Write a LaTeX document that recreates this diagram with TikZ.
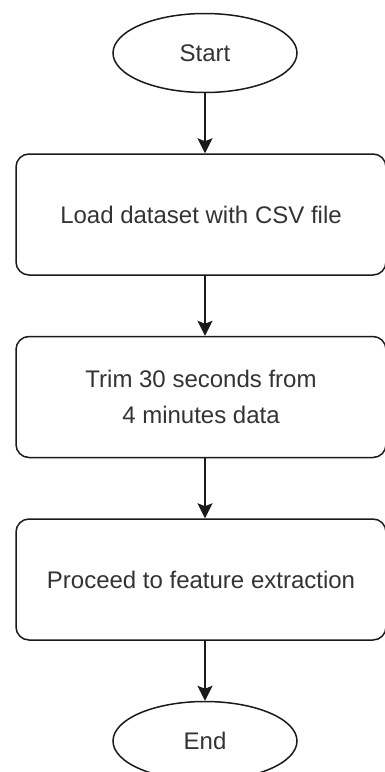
\documentclass[tikz,border=0pt]{standalone}
\usepackage{fontspec}
\setmainfont{Liberation Sans}
\usetikzlibrary{positioning, arrows.meta, shapes.geometric}
\definecolor{StrokeGray}{HTML}{1A1A1A}
\definecolor{TextGray}{HTML}{333333}

\begin{document}
\begin{tikzpicture}[
        x=1pt, y=-1pt,
        node distance=60pt,
        terminal/.style={
            ellipse, draw=StrokeGray, line width=1.5pt, minimum width=184pt,
            minimum height=79pt, inner sep=0pt, font=\fontsize{24}{36}\selectfont, text=TextGray
        },
        process/.style={
            rectangle, rounded corners=13pt, draw=StrokeGray, line width=1.5pt,
            minimum width=370pt, minimum height=121pt, align=center,
            font=\fontsize{24}{36}\selectfont, text=TextGray
        },
        arrow/.style={line width=1.5pt, StrokeGray, -{Stealth[length=15pt, width=15pt, inset=3pt]}}
    ]
    \useasboundingbox (0,0) rectangle (385,772);

    % Start / end and the three steps
    \node (start) [terminal] at (205, 53) {Start};

    \node (load) [process, below=of start, xshift=-4pt] {Load dataset with CSV file};

    \node (trim) [process, below=of load] {Trim 30 seconds from\\ 4 minutes data};

    \node (feature) [process, below=of trim] {Proceed to feature extraction};

    \node (end) [terminal, below=of feature, xshift=4pt] {End};

    % Arrows between steps
    \draw [arrow] (start.south) -- (start.south |- load.north);
    \draw [arrow] (start.south |- load.south) -- (start.south |- trim.north);
    \draw [arrow] (start.south |- trim.south) -- (start.south |- feature.north);
    \draw [arrow] (start.south |- feature.south) -- (end.north);

\end{tikzpicture}
\end{document}
